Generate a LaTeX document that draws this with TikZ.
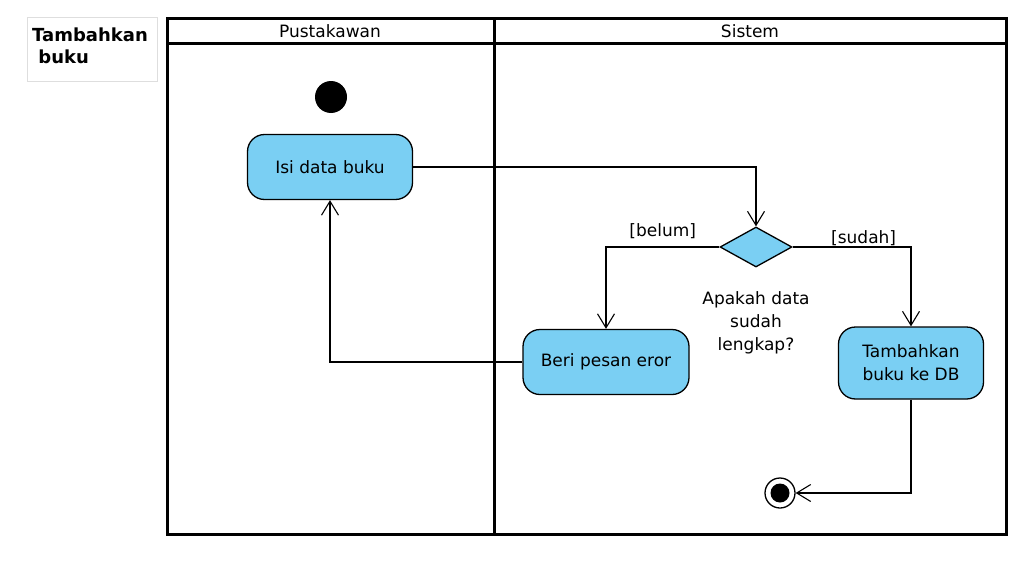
\documentclass[tikz,border=0pt]{standalone}
\usepackage{fontspec}
\setmainfont{DejaVu Sans}
\usetikzlibrary{arrows.meta,shapes.geometric,positioning}
\definecolor{actblue}{RGB}{122,207,243}
\definecolor{titlegray}{RGB}{222,222,222}

\begin{document}
\begin{tikzpicture}[
            x=1pt, y=-1pt,
            font=\fontsize{17}{23}\selectfont,
            lane/.style={line width=3pt},
            action/.style={rectangle, draw, line width=1.3pt, fill=actblue,
              rounded corners=17pt, align=center, inner sep=2pt},
            decision/.style={diamond, draw, line width=1.3pt, fill=actblue,
              minimum width=72pt, minimum height=40pt, inner sep=0pt},
            flow/.style={draw, line width=1.1pt, -{Straight Barb[length=14pt,width=17pt,line width=1.1pt]}},
            guard/.style={above, inner sep=3pt},
          ]
          \useasboundingbox (0,0) rectangle (1036,562);
          % title
          \node[draw=titlegray, line width=0.8pt, minimum width=130pt, minimum height=64pt] (title) at (92,49) {};
          \node[anchor=north west, align=left, font=\fontsize{18}{22}\selectfont\bfseries, inner sep=0pt] (titletext) at (32,28) {Tambahkan\\\ buku};
          % swimlanes
          \draw[lane] (167,18) rectangle (1006,534);
          \draw[lane] (167,43) -- (1006,43);
          \draw[lane] (494,18) -- (494,534);
          \node (lane1) at (330,31) {Pustakawan};
          \node (lane2) at (750,31) {Sistem};
          % nodes
          \node[circle, fill=black, minimum size=32pt, inner sep=0pt] (start) at (331,97) {};
          \node[action, minimum width=165pt, minimum height=65pt] (isi) at (330,167) {Isi data buku};
          \node[decision] (cek) at (756,247) {};
          \node[below=20pt of cek, align=center] (tanya) {Apakah data\\sudah\\lengkap?};
          \node[action, minimum width=166pt, minimum height=65pt] (eror) at (606,362) {Beri pesan eror};
          \node[action, minimum width=145pt, minimum height=72pt] (simpan) at (911,363) {Tambahkan\\buku ke DB};
          \node[circle, draw, line width=1.3pt, fill=white, minimum size=30pt, inner sep=0pt] (akhir) at (780,493) {};
          \node[circle, fill=black, minimum size=19pt, inner sep=0pt] (akhirdot) at (akhir) {};
          % flows
          \draw[flow] (isi.east) -| (cek.north);
          \draw[flow] (cek.west) -| node[guard, pos=0.25, inner sep=8pt] {[belum]} (eror.north);
          \draw[flow] (cek.east) -| node[guard, pos=0.3, inner sep=1pt] {[sudah]} (simpan.north);
          \draw[flow] (eror.west) -| (isi.south);
          \draw[flow] (simpan.south) |- (akhir.east);
          \end{tikzpicture}
\end{document}
